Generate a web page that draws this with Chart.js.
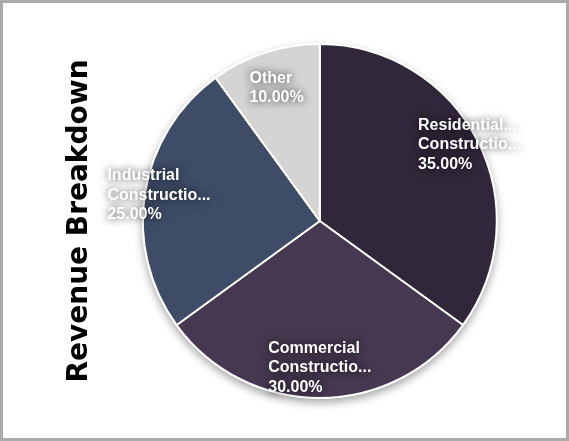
<!DOCTYPE html>
<html>
<head>
<meta charset="utf-8">
<script src="https://cdn.jsdelivr.net/npm/chart.js@4.4.0/dist/chart.umd.min.js"></script>
<style>
  html, body { margin: 0; padding: 0; background: #fff; }
  #wrap { width: 563px; height: 435px; border: 3px solid #ababab; position: relative; }
  canvas { display: block; }
</style>
</head>
<body>
<div id="wrap"><canvas id="c" width="563" height="435"></canvas></div>
<script>
const categories = ["Residential Construction", "Commercial Construction", "Industrial Construction", "Other"];
const shownLabels = [["Residential...", "Constructio..."], ["Commercial", "Constructio..."], ["Industrial", "Constructio..."], ["Other"]];
const values = [35, 30, 25, 10];
const colors = ["#31273a", "#463850", "#3e4c67", "#d4d4d4"];
const titleText = "Revenue Breakdown";

const shadowPlugin = {
  id: 'pieShadow',
  beforeDatasetsDraw(chart) {
    const arc = chart.getDatasetMeta(0).data[0];
    if (!arc) return;
    const ctx = chart.ctx;
    ctx.save();
    ctx.shadowColor = 'rgba(0,0,0,0.35)';
    ctx.shadowBlur = 9;
    ctx.shadowOffsetX = 0;
    ctx.shadowOffsetY = 4;
    ctx.beginPath();
    ctx.arc(arc.x, arc.y, arc.outerRadius + 1, 0, Math.PI * 2);
    ctx.fillStyle = '#ffffff';
    ctx.fill();
    ctx.restore();
  }
};

const labelFactors = [0.95, 0.83, 0.92, 0.79];
const labelPlugin = {
  id: 'sliceLabels',
  afterDatasetsDraw(chart) {
    const meta = chart.getDatasetMeta(0);
    const ds = chart.data.datasets[0];
    const total = ds.data.reduce((a, b) => a + b, 0);
    const ctx = chart.ctx;
    ctx.save();
    ctx.font = 'bold 16px "Liberation Sans", Arial, sans-serif';
    ctx.textBaseline = 'middle';
    ctx.textAlign = 'left';
    const lh = 19.5;
    meta.data.forEach((arc, i) => {
      const mid = (arc.startAngle + arc.endAngle) / 2;
      const r = arc.outerRadius * labelFactors[i];
      const cx = arc.x + Math.cos(mid) * r;
      const cy = arc.y + Math.sin(mid) * r;
      const lines = shownLabels[i].concat([(ds.data[i] / total * 100).toFixed(2) + '%']);
      const w = Math.max(...lines.map(l => ctx.measureText(l).width));
      const x0 = cx - w / 2;
      const y0 = cy - (lines.length - 1) * lh / 2;
      lines.forEach((l, k) => {
        ctx.shadowColor = 'rgba(0,0,0,0.8)';
        ctx.shadowBlur = 8;
        ctx.shadowOffsetX = 0;
        ctx.shadowOffsetY = 0;
        ctx.fillStyle = '#ffffff';
        ctx.fillText(l, x0, y0 + k * lh);
      });
    });
    ctx.restore();
  }
};

new Chart(document.getElementById('c'), {
  type: 'pie',
  data: {
    labels: categories,
    datasets: [{
      data: values,
      backgroundColor: colors,
      borderColor: '#ffffff',
      borderWidth: 2
    }]
  },
  options: {
    responsive: false,
    animation: false,
    layout: { padding: { left: 50, right: 33, top: 40, bottom: 39 } },
    plugins: {
      legend: { display: false },
      tooltip: { enabled: false },
      title: {
        display: true,
        text: titleText,
        position: 'left',
        color: '#000000',
        font: { family: '"DejaVu Sans", sans-serif', size: 28, weight: 'bold' },
        padding: { top: 10, bottom: 10 }
      }
    }
  },
  plugins: [shadowPlugin, labelPlugin]
});
</script>
</body>
</html>
